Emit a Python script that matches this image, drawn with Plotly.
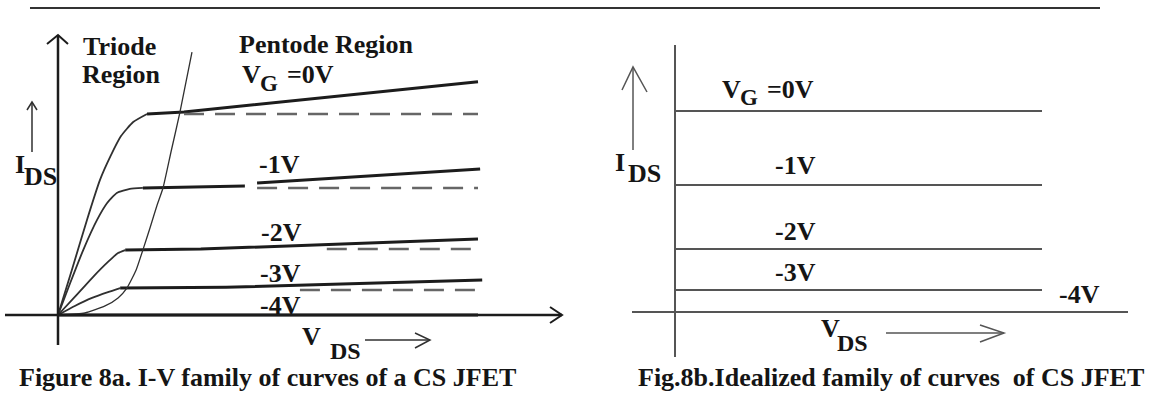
import plotly.graph_objects as go

W, H = 1151, 394

# ---------------- data: Fig 8a (V_DS in V, I_DS in mA) ----------------
gate_labels = ["-1V", "-2V", "-3V", "-4V"]

# ohmic / triode rise of each curve
rise_v_0 = [0, 0.33, 0.69, 1.0, 1.25, 1.5, 1.79, 2.12]
rise_i_0 = [0, 2.24, 4.73, 6.72, 7.9, 8.9, 9.6, 10.0]
rise_v_1 = [0, 0.29, 0.6, 0.93, 1.17, 1.4, 1.71, 2.02]
rise_i_1 = [0, 1.59, 3.23, 4.73, 5.57, 6.07, 6.27, 6.32]
rise_v_2 = [0, 0.4, 0.81, 1.19, 1.43, 1.6]
rise_i_2 = [0, 0.9, 1.84, 2.64, 3.08, 3.23]
rise_v_3 = [0, 0.4, 0.81, 1.19, 1.48]
rise_i_3 = [0, 0.45, 0.85, 1.14, 1.34]

# saturation (pentode) part with channel-length modulation
sat_v_0 = [2.12, 3.0, 10.0]
sat_i_0 = [10.0, 10.1, 11.6]
sat_v_1 = [2.02, 3.5, 4.45, None, 4.74, 10.05]
sat_i_1 = [6.32, 6.37, 6.42, None, 6.57, 7.26]
sat_v_2 = [1.6, 3.4, 10.0]
sat_i_2 = [3.23, 3.28, 3.78]
sat_v_3 = [1.48, 4.0, 10.1]
sat_i_3 = [1.34, 1.38, 1.74]
sat_v_4 = [0, 10.0]
sat_i_4 = [0, 0]

# ideal (flat) saturation reference, dashed
dash_v_start = [3.0, 4.74, 6.4, 5.76]
dash_v_end = [10.0, 10.0, 10.0, 10.1]
dash_i = [10.0, 6.32, 3.28, 1.24]

# triode / pentode boundary
bound_v = [0, 0.64, 1.12, 1.43, 1.64, 1.86, 2.02, 2.19, 2.36, 2.5, 2.69, 2.9, 3.19]
bound_i = [0, 0.1, 0.45, 0.85, 1.34, 2.24, 3.23, 4.33, 5.47, 6.32, 8.11, 10.05, 13.08]

# ---------------- data: Fig 8b (idealized) ----------------
ideal_levels = [10.0, 6.32, 3.13, 1.09, 0.0]
ideal_v_end = 10.0

# ---------------- layout geometry (pixels) ----------------
X0_L, SX_L, Y0_L, SY = 58, 42.0, 315, 20.1
X0_R, SX_R, Y0_R = 675, 36.7, 312

def px(x):
    return x / W

def py(y):
    return 1 - y / H

fig = go.Figure()

dark = "#1c1c1c"
mid = "#303030"
dgray = "#666666"
rgray = "#555555"

def add(xs, ys, color, width, axis="", dash=None, spline=False):
    line = dict(color=color, width=width)
    if dash:
        line["dash"] = dash
    if spline:
        line["shape"] = "spline"
        line["smoothing"] = 0.5
    fig.add_trace(go.Scatter(x=xs, y=ys, mode="lines", line=line,
                             xaxis="x" + axis, yaxis="y" + axis,
                             hoverinfo="skip", showlegend=False,
                             connectgaps=False))

rises = [(rise_v_0, rise_i_0), (rise_v_1, rise_i_1), (rise_v_2, rise_i_2), (rise_v_3, rise_i_3)]
sats = [(sat_v_0, sat_i_0), (sat_v_1, sat_i_1), (sat_v_2, sat_i_2), (sat_v_3, sat_i_3), (sat_v_4, sat_i_4)]

for xs, ys in rises:
    add(xs, ys, mid, 1.8, spline=True)
for xs, ys in sats:
    add(xs, ys, dark, 3)
for a, b, lvl in zip(dash_v_start, dash_v_end, dash_i):
    add([a, b], [lvl, lvl], dgray, 2.5, dash="20px,11px")
add(bound_v, bound_i, mid, 1.3, spline=True)

for lvl in ideal_levels:
    add([0, ideal_v_end], [lvl, lvl], rgray, 2, axis="2")

# ---------------- decorations (axes, arrows, rule) ----------------
shapes = []

def seg(pts, color, width):
    path = "M " + " L ".join(f"{px(a):.5f},{py(b):.5f}" for a, b in pts)
    shapes.append(dict(type="path", path=path, xref="paper", yref="paper",
                       line=dict(color=color, width=width)))

seg([(30, 8), (1100, 8)], "#333333", 2)
# left axes
seg([(58, 35), (58, 345)], dark, 2.5)
seg([(47, 44), (58, 35), (68, 44)], dark, 2)
seg([(5, 315), (562, 315)], dark, 2.5)
seg([(550, 307), (562, 315), (550, 323)], dark, 2)
seg([(32, 152), (32, 102)], mid, 1.5)
seg([(27, 110), (32, 102), (37, 110)], mid, 1.5)
seg([(365, 340), (430, 340)], mid, 1.5)
seg([(415, 333), (430, 340), (415, 348)], mid, 1.5)
# right axes
seg([(675, 45), (675, 357)], rgray, 2)
seg([(632, 312), (1128, 312)], rgray, 2)
seg([(633, 150), (633, 67)], rgray, 1.5)
seg([(622, 90), (633, 67), (647, 92)], rgray, 1.5)
seg([(886, 333), (1004, 333)], rgray, 1.5)
seg([(980, 325), (1004, 333), (980, 342)], rgray, 1.5)

# ---------------- text ----------------
annots = []
FONT = "Liberation Serif"

def txt(s, x, y, size=26, anchor="center", color="#151515"):
    annots.append(dict(text=f"<b>{s}</b>", x=px(x), y=py(y), xref="paper", yref="paper",
                       xanchor=anchor, yanchor="middle", showarrow=False,
                       font=dict(family=FONT, size=size, color=color)))

txt("Triode", 120, 46)
txt("Region", 121, 75)
txt("Pentode Region", 326, 44)
txt("V", 240, 74, anchor="left")
txt("G", 258, 83, size=23, anchor="left")
txt("=0V", 285, 75, anchor="left")
left_label_pos = [(279, 164), (281, 232), (280, 273), (280, 305)]
for lab, (x, y) in zip(gate_labels, left_label_pos):
    txt(lab, x, y)
txt("I", 20, 164)
txt("DS", 40, 176)
txt("V", 311, 336)
txt("DS", 345, 351, size=24)
txt("Figure 8a. I-V family of curves of a CS JFET", 267, 377)

txt("V", 720, 89, anchor="left")
txt("G", 738, 98, size=23, anchor="left")
txt("=0V", 765, 89, anchor="left")
right_label_pos = [(795, 165), (795, 231), (795, 272), (1079, 294)]
for lab, (x, y) in zip(gate_labels, right_label_pos):
    txt(lab, x, y)
txt("I", 620, 162)
txt("DS", 644, 173)
txt("V", 830, 328)
txt("DS", 852, 343, size=24)
txt("Fig.8b.Idealized family of curves&nbsp;&nbsp;of CS JFET", 891, 377)

hidden = dict(visible=False, showgrid=False, zeroline=False, fixedrange=True)
fig.update_layout(
    width=W, height=H, margin=dict(l=0, r=0, t=0, b=0),
    paper_bgcolor="white", plot_bgcolor="white",
    xaxis=dict(range=[(0 - X0_L) / SX_L, (W - X0_L) / SX_L], domain=[0, 1], **hidden),
    yaxis=dict(range=[(Y0_L - H) / SY, Y0_L / SY], domain=[0, 1], **hidden),
    xaxis2=dict(range=[(0 - X0_R) / SX_R, (W - X0_R) / SX_R], domain=[0, 1],
                overlaying="x", anchor="y2", **hidden),
    yaxis2=dict(range=[(Y0_R - H) / SY, Y0_R / SY], domain=[0, 1],
                overlaying="y", anchor="x2", **hidden),
    shapes=shapes, annotations=annots, showlegend=False,
)

fig.write_html("out.html", config={"displayModeBar": False},
               post_script="document.body.style.margin='0';document.body.style.overflow='hidden';")
